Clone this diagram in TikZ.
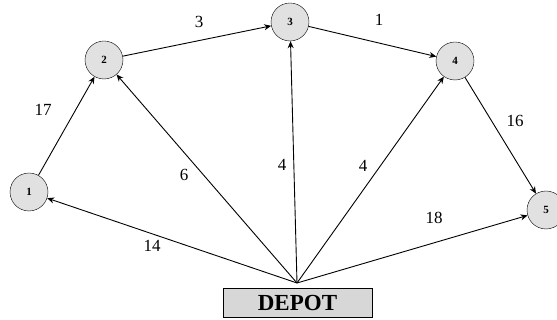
\documentclass[tikz,border=0pt]{standalone}
\usepackage{fontspec}
\setmainfont{Liberation Serif}
\usetikzlibrary{arrows.meta}
\begin{document}
\begin{tikzpicture}[x=1pt, y=-1pt]
  % Colors
  \definecolor{custcol}{RGB}{225,225,225}
  \definecolor{depotcol}{RGB}{215,215,215}
  %
  \tikzset{
    cust/.style={draw, thin, circle, fill=custcol, minimum size=38pt, inner sep=0pt,
                 font=\fontsize{11}{12}\selectfont\bfseries},
    depotbox/.style={draw, thin, fill=depotcol, minimum width=149pt, minimum height=29pt,
                 inner sep=0pt, font=\fontsize{23}{25}\selectfont\bfseries},
    arr/.style={-{Stealth[length=7pt, width=6pt]}, line width=0.9pt},
    wlbl/.style={font=\fontsize{17}{19}\selectfont},
  }
  %
  \useasboundingbox (0, 0) rectangle (557, 320);
  %
  % === CUSTOMERS ===
  \node[cust] (n1) at (29, 192) {1};
  \node[cust] (n2) at (104, 60) {2};
  \node[cust] (n3) at (290, 22) {3};
  \node[cust] (n4) at (455, 61) {4};
  \node[cust] (n5) at (546, 210) {5};
  %
  % === DEPOT ===
  \node[depotbox] (depot) at (297.5, 302.5) {DEPOT};
  \coordinate (src) at (297, 283);
  %
  % === ROUTE ARROWS ===
  \draw[arr] (n1) -- (n2);
  \draw[arr] (n2) -- (n3);
  \draw[arr] (n3) -- (n4);
  \draw[arr] (n4) -- (n5);
  %
  % === ARROWS: DEPOT -> CUSTOMERS ===
  \foreach \c in {n1,n2,n3,n4,n5} {
    \draw[arr] (src) -- (\c);
  }
  %
  % === WEIGHTS ===
  \node[wlbl] (w12) at (43, 110) {17};
  \node[wlbl] (w23) at (199, 22) {3};
  \node[wlbl] (w34) at (379, 20) {1};
  \node[wlbl] (w45) at (515, 121) {16};
  \node[wlbl] (wd1) at (152, 246) {14};
  \node[wlbl] (wd2) at (184, 175) {6};
  \node[wlbl] (wd3) at (282, 165) {4};
  \node[wlbl] (wd4) at (363, 166) {4};
  \node[wlbl] (wd5) at (434, 218) {18};
  %
\end{tikzpicture}
\end{document}
